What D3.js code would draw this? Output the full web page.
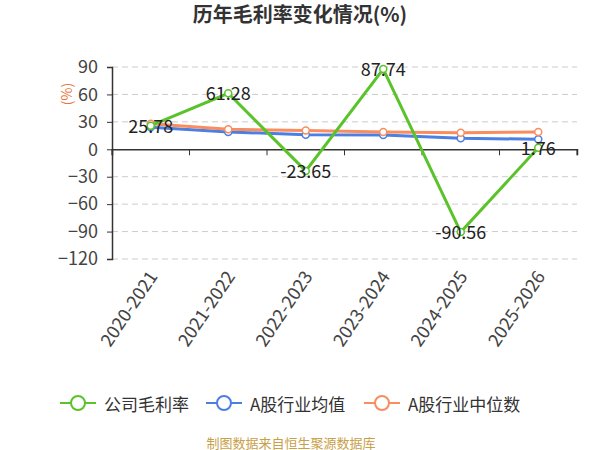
<!DOCTYPE html>
<html>
<head>
<meta charset="utf-8">
<script src="https://cdn.jsdelivr.net/npm/d3@7"></script>
<style>
  body { margin: 0; background: #fff; }
  svg text { font-family: "Noto Sans CJK SC", "Noto Sans", sans-serif; }
</style>
</head>
<body>
<svg id="chart" width="600" height="450"></svg>
<script>
const years = ["2020-2021", "2021-2022", "2022-2023", "2023-2024", "2024-2025", "2025-2026"];
const companyMargin = [25.78, 61.28, -23.65, 87.74, -90.56, 1.76];
const industryMean = [24, 19, 16, 15.5, 12, 11];
const industryMedian = [28, 22, 20.5, 19, 18, 19];
const yTicks = [90, 60, 30, 0, -30, -60, -90, -120];

const svg = d3.select("#chart");
const x = d3.scaleBand().domain(years).range([112, 577]);
const y = d3.scaleLinear().domain([-120, 90]).range([259, 67]);
const cx = d => x(d) + x.bandwidth() / 2;

  // title
svg.append("text")
    .attr("x", 300).attr("y", 22)
    .attr("text-anchor", "middle")
    .style("font-size", "20px").style("font-weight", "bold").attr("fill", "#333")
    .text("历年毛利率变化情况(%)");

  // dashed grid
svg.append("g").selectAll("line")
    .data(yTicks.filter(t => t !== 0))
    .join("line")
    .attr("x1", 112).attr("x2", 577)
    .attr("y1", d => y(d)).attr("y2", d => y(d))
    .attr("stroke", "#ccc").attr("stroke-dasharray", "6,4");

  // y axis
const yAxis = svg.append("g")
    .attr("transform", "translate(112,0)")
    .call(d3.axisLeft(y).tickValues(yTicks).tickSize(5).tickPadding(9));
yAxis.select(".domain").attr("stroke", "#333").attr("stroke-width", 1.5);
yAxis.selectAll(".tick line").attr("stroke", "#333");
yAxis.selectAll("text").style("font-size", "18px").attr("fill", "#444");

svg.append("text")
    .attr("transform", "translate(66,94) rotate(-90)")
    .attr("text-anchor", "middle").attr("dominant-baseline", "central")
    .style("font-size", "14px").attr("fill", "#e8743b")
    .text("(%)");

  // x axis at zero
const xAxis = svg.append("g")
    .attr("transform", "translate(0," + y(0) + ")")
    .call(d3.axisBottom(x).tickSize(6).tickFormat(""));
xAxis.select(".domain").attr("stroke", "#333").attr("stroke-width", 1.5);
xAxis.selectAll(".tick line")
    .attr("transform", "translate(" + (-x.bandwidth() / 2) + ",0)")
    .attr("stroke", "#333");
xAxis.append("line")
    .attr("x1", 577).attr("x2", 577).attr("y1", 0).attr("y2", 6)
    .attr("stroke", "#333");

  // x labels at the bottom
svg.append("g").selectAll("text")
    .data(years)
    .join("text")
    .attr("transform", d => "translate(" + (cx(d) + 1) + ",272) rotate(-56)")
    .attr("text-anchor", "end").attr("dominant-baseline", "central")
    .style("font-size", "18px").attr("fill", "#444")
    .text(d => d);

const series = [
  {name: "A股行业均值", values: industryMean, color: "#4b7fe2"},
  {name: "A股行业中位数", values: industryMedian, color: "#f98d60"},
  {name: "公司毛利率", values: companyMargin, color: "#5ac32a"}
];

const line = d3.line().x((d, i) => cx(years[i])).y(d => y(d));

series.forEach(function(s) {
  const g = svg.append("g");
  g.append("path")
      .datum(s.values)
      .attr("d", line)
      .attr("fill", "none").attr("stroke", s.color).attr("stroke-width", 3);
  g.selectAll("circle")
      .data(s.values)
      .join("circle")
      .attr("cx", (d, i) => cx(years[i])).attr("cy", d => y(d))
      .attr("r", 3.5)
      .attr("fill", "#fff").attr("stroke", s.color).attr("stroke-width", 1.5);
});

  // value labels for company
svg.append("g").selectAll("text")
    .data(companyMargin)
    .join("text")
    .attr("x", (d, i) => cx(years[i])).attr("y", d => y(d) - 1)
    .attr("text-anchor", "middle").attr("dominant-baseline", "central")
    .style("font-size", "18px").attr("fill", "#222")
    .text(d => d.toFixed(2));

  // legend
const legendX = [60, 206, 364];
const legendOrder = [series[2], series[0], series[1]];
const legend = svg.append("g").selectAll("g")
    .data(legendOrder)
    .join("g")
    .attr("transform", (d, i) => "translate(" + legendX[i] + ",403)");
legend.append("line")
    .attr("x1", 0).attr("x2", 36)
    .attr("stroke", d => d.color).attr("stroke-width", 2);
legend.append("circle")
    .attr("cx", 18).attr("r", 7)
    .attr("fill", "#fff").attr("stroke", d => d.color).attr("stroke-width", 2);
legend.append("text")
    .attr("x", 44).attr("dominant-baseline", "central")
    .style("font-size", "17px").attr("fill", "#333")
    .text(d => d.name);

  // source
svg.append("text")
    .attr("x", 291).attr("y", 442)
    .attr("text-anchor", "middle").attr("dominant-baseline", "central")
    .style("font-size", "13px").attr("fill", "#c8a048")
    .text("制图数据来自恒生聚源数据库");
</script>
</body>
</html>
